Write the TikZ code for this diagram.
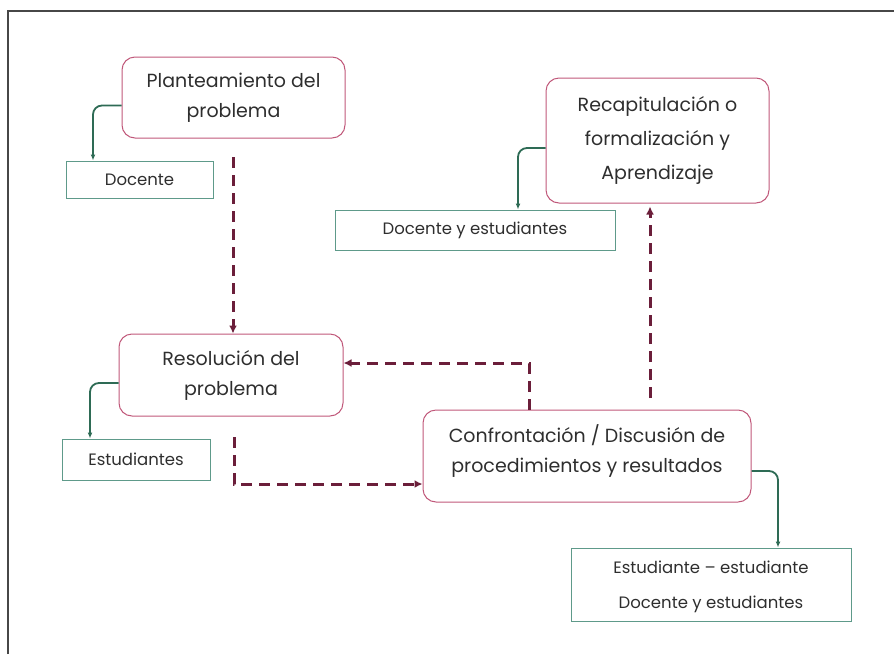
\documentclass[tikz,border=0pt]{standalone}
\usepackage{fontspec}
\setmainfont{Poppins}
\usetikzlibrary{arrows.meta}
\definecolor{maroon}{HTML}{6B1E3A}
\definecolor{pinkb}{HTML}{C0587A}
\definecolor{darkg}{HTML}{2E6B55}
\definecolor{boxg}{HTML}{5E9A8A}
\definecolor{txt}{HTML}{2E2E2E}
\tikzset{
  bigbox/.style={draw=pinkb, line width=1pt, rounded corners=13pt, align=center, text=txt, font=\fontsize{19}{30}\selectfont, inner sep=0pt},
  smallbox/.style={draw=boxg, line width=1pt, align=center, text=txt, font=\fontsize{16.5}{35}\selectfont, inner sep=0pt},
  garrow/.style={draw=darkg, line width=1.8pt, rounded corners=9pt, -{Latex[length=6pt,width=5pt]}},
  darrow/.style={draw=maroon, line width=3pt, dash pattern=on 11pt off 7pt, -{Latex[length=8pt,width=8pt]}},
  frame/.style={draw=black!72, line width=1.6pt}
}
\begin{document}
\begin{tikzpicture}[x=1pt,y=-1pt]
\useasboundingbox (0,0) rectangle (894,654);
\draw[frame] (8,654) -- (8,11) -- (894,11);
\node[bigbox, minimum width=223pt, minimum height=81pt] (plan) at (233.5,97.5) {Planteamiento del\\problema};
\node[smallbox, minimum width=147pt, minimum height=37pt] (doc) at (139.5,179.5) {Docente};
\node[bigbox, minimum width=223pt, minimum height=125pt, font=\fontsize{19}{34}\selectfont] (recap) at (657.5,140.5) {Recapitulación o\\formalización y\\Aprendizaje};
\node[smallbox, minimum width=280pt, minimum height=40pt] (dye) at (475,230) {Docente y estudiantes};
\node[bigbox, minimum width=224pt, minimum height=82pt] (res) at (231,375) {Resolución del\\problema};
\node[smallbox, minimum width=148pt, minimum height=41pt] (est) at (136,459.5) {Estudiantes};
\node[bigbox, minimum width=328pt, minimum height=92pt, text depth=14pt] (conf) at (587,456) {Confrontación / Discusión de\\procedimientos y resultados};
\node[smallbox, minimum width=280pt, minimum height=73pt, text depth=-3pt] (ee) at (711,584.5) {Estudiante – estudiante\\Docente y estudiantes};
% green connectors
\draw[garrow] ([yshift=-8pt]plan.west) -| ([xshift=-46.5pt]doc.north);
\draw[garrow] ([yshift=-7.5pt]recap.west) -| ([xshift=43pt]dye.north);
\draw[garrow] ([yshift=-8pt]res.west) -| ([xshift=-46pt]est.north);
\draw[garrow] ([yshift=-15pt]conf.east) -| ([xshift=67pt]ee.north);
% dashed connectors
\coordinate (s1) at (233,157);
\coordinate (s2) at (234,437);
\coordinate (s4) at (650,398);
\draw[darrow] (s1) -- ([xshift=2pt]res.north);
\draw[darrow] (s2) |- ([yshift=-28pt]conf.west);
\draw[darrow] ([xshift=-58pt]conf.north) |- ([yshift=12pt]res.east);
\draw[darrow, shorten >=3pt] (s4) -- ([xshift=-7.5pt]recap.south);
\end{tikzpicture}
\end{document}
